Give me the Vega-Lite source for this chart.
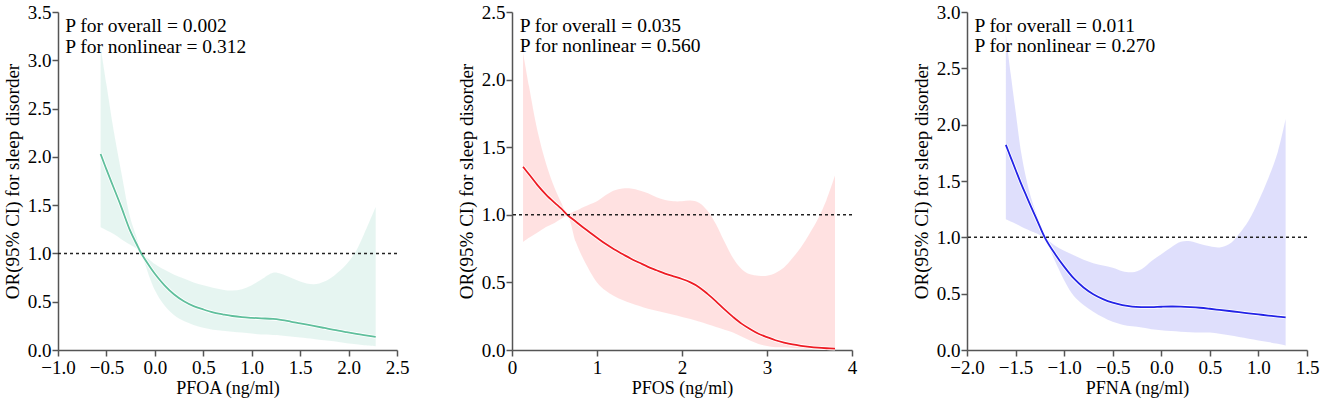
{
  "$schema": "https://vega.github.io/schema/vega-lite/v6.json",
  "padding": {"left": 3, "top": 3, "right": 5, "bottom": 5},
  "background": "white",
  "config": {
    "font": "Liberation Serif",
    "view": {"stroke": null},
    "axis": {
      "grid": false,
      "domainColor": "#555555",
      "domainWidth": 1.5,
      "tickColor": "#555555",
      "tickWidth": 1.5,
      "tickSize": 6,
      "labelColor": "#000000",
      "labelFont": "Liberation Serif",
      "labelFontSize": 19,
      "labelOverlap": false,
      "labelFlush": false,
      "titleFont": "Liberation Serif",
      "titleFontSize": 18,
      "titleFontWeight": "normal",
      "titleColor": "#000000",
      "labelPadding": 1
    },
    "axisY": {"titlePadding": 5, "titleFontSize": 19},
    "axisX": {"titlePadding": 2, "labelPadding": 2}
  },
  "datasets": {
    "pfoa": [
      {"x": -0.56, "or": 2.03, "lo": 1.27, "hi": 3.14},
      {"x": -0.5, "or": 1.87, "lo": 1.24, "hi": 2.75},
      {"x": -0.425, "or": 1.68, "lo": 1.2, "hi": 2.27},
      {"x": -0.35, "or": 1.49, "lo": 1.15, "hi": 1.86},
      {"x": -0.254, "or": 1.233, "lo": 1.09, "hi": 1.37},
      {"x": -0.19, "or": 1.1, "lo": 1.05, "hi": 1.17},
      {"x": -0.14, "or": 1.0, "lo": 0.99, "hi": 1.01},
      {"x": -0.05, "or": 0.86, "lo": 0.74, "hi": 0.93},
      {"x": 0.0, "or": 0.79, "lo": 0.62, "hi": 0.89},
      {"x": 0.1, "or": 0.67, "lo": 0.46, "hi": 0.83},
      {"x": 0.2, "or": 0.575, "lo": 0.36, "hi": 0.78},
      {"x": 0.3, "or": 0.505, "lo": 0.3, "hi": 0.74},
      {"x": 0.4, "or": 0.455, "lo": 0.26, "hi": 0.7},
      {"x": 0.5, "or": 0.42, "lo": 0.23, "hi": 0.67},
      {"x": 0.6, "or": 0.39, "lo": 0.21, "hi": 0.645},
      {"x": 0.7, "or": 0.37, "lo": 0.2, "hi": 0.625},
      {"x": 0.8, "or": 0.352, "lo": 0.19, "hi": 0.615},
      {"x": 0.9, "or": 0.34, "lo": 0.18, "hi": 0.63},
      {"x": 1.0, "or": 0.333, "lo": 0.17, "hi": 0.67},
      {"x": 1.1, "or": 0.328, "lo": 0.16, "hi": 0.73},
      {"x": 1.22, "or": 0.322, "lo": 0.155, "hi": 0.8},
      {"x": 1.3, "or": 0.312, "lo": 0.15, "hi": 0.79},
      {"x": 1.4, "or": 0.295, "lo": 0.14, "hi": 0.75},
      {"x": 1.5, "or": 0.276, "lo": 0.13, "hi": 0.71},
      {"x": 1.64, "or": 0.25, "lo": 0.115, "hi": 0.68},
      {"x": 1.75, "or": 0.228, "lo": 0.1, "hi": 0.71},
      {"x": 1.85, "or": 0.208, "lo": 0.09, "hi": 0.77},
      {"x": 1.98, "or": 0.185, "lo": 0.07, "hi": 0.89},
      {"x": 2.08, "or": 0.168, "lo": 0.06, "hi": 1.03},
      {"x": 2.16, "or": 0.155, "lo": 0.05, "hi": 1.2},
      {"x": 2.28, "or": 0.135, "lo": 0.04, "hi": 1.48}
    ],
    "pfos": [
      {"x": 0.13, "or": 1.355, "lo": 0.8, "hi": 2.2},
      {"x": 0.2, "or": 1.3, "lo": 0.83, "hi": 1.95},
      {"x": 0.3, "or": 1.22, "lo": 0.87, "hi": 1.62},
      {"x": 0.4, "or": 1.15, "lo": 0.91, "hi": 1.38},
      {"x": 0.5, "or": 1.09, "lo": 0.94, "hi": 1.2},
      {"x": 0.58, "or": 1.045, "lo": 0.97, "hi": 1.09},
      {"x": 0.65, "or": 1.0, "lo": 0.99, "hi": 1.01},
      {"x": 0.75, "or": 0.95, "lo": 0.8, "hi": 1.03},
      {"x": 0.85, "or": 0.9, "lo": 0.66, "hi": 1.06},
      {"x": 1.0, "or": 0.83, "lo": 0.5, "hi": 1.1},
      {"x": 1.1, "or": 0.785, "lo": 0.44, "hi": 1.145},
      {"x": 1.2, "or": 0.745, "lo": 0.4, "hi": 1.18},
      {"x": 1.3, "or": 0.71, "lo": 0.37, "hi": 1.195},
      {"x": 1.4, "or": 0.675, "lo": 0.345, "hi": 1.195},
      {"x": 1.5, "or": 0.645, "lo": 0.325, "hi": 1.18},
      {"x": 1.6, "or": 0.615, "lo": 0.305, "hi": 1.16},
      {"x": 1.7, "or": 0.59, "lo": 0.29, "hi": 1.13},
      {"x": 1.8, "or": 0.565, "lo": 0.275, "hi": 1.11},
      {"x": 1.9, "or": 0.545, "lo": 0.26, "hi": 1.1},
      {"x": 2.0, "or": 0.525, "lo": 0.245, "hi": 1.1},
      {"x": 2.1, "or": 0.5, "lo": 0.23, "hi": 1.105},
      {"x": 2.2, "or": 0.465, "lo": 0.21, "hi": 1.09},
      {"x": 2.3, "or": 0.415, "lo": 0.19, "hi": 1.03},
      {"x": 2.4, "or": 0.36, "lo": 0.17, "hi": 0.93},
      {"x": 2.5, "or": 0.3, "lo": 0.15, "hi": 0.8},
      {"x": 2.6, "or": 0.245, "lo": 0.13, "hi": 0.68},
      {"x": 2.7, "or": 0.195, "lo": 0.1, "hi": 0.6},
      {"x": 2.8, "or": 0.155, "lo": 0.07, "hi": 0.56},
      {"x": 2.9, "or": 0.12, "lo": 0.045, "hi": 0.55},
      {"x": 3.0, "or": 0.095, "lo": 0.03, "hi": 0.55},
      {"x": 3.1, "or": 0.072, "lo": 0.02, "hi": 0.57},
      {"x": 3.2, "or": 0.055, "lo": 0.02, "hi": 0.61},
      {"x": 3.3, "or": 0.041, "lo": 0.015, "hi": 0.68},
      {"x": 3.4, "or": 0.031, "lo": 0.012, "hi": 0.76},
      {"x": 3.5, "or": 0.023, "lo": 0.01, "hi": 0.86},
      {"x": 3.6, "or": 0.017, "lo": 0.01, "hi": 0.97},
      {"x": 3.7, "or": 0.013, "lo": 0.01, "hi": 1.11},
      {"x": 3.8, "or": 0.01, "lo": 0.005, "hi": 1.29}
    ],
    "pfna": [
      {"x": -1.6, "or": 1.82, "lo": 1.16, "hi": 2.8},
      {"x": -1.55, "or": 1.71, "lo": 1.14, "hi": 2.45},
      {"x": -1.5, "or": 1.6, "lo": 1.12, "hi": 2.12},
      {"x": -1.44, "or": 1.47, "lo": 1.095, "hi": 1.74},
      {"x": -1.39, "or": 1.37, "lo": 1.075, "hi": 1.52},
      {"x": -1.34, "or": 1.27, "lo": 1.055, "hi": 1.35},
      {"x": -1.27, "or": 1.135, "lo": 1.03, "hi": 1.17},
      {"x": -1.2, "or": 1.0, "lo": 0.99, "hi": 1.01},
      {"x": -1.1, "or": 0.86, "lo": 0.8, "hi": 0.93},
      {"x": -1.0, "or": 0.74, "lo": 0.62, "hi": 0.88},
      {"x": -0.9, "or": 0.635, "lo": 0.48, "hi": 0.84},
      {"x": -0.8, "or": 0.555, "lo": 0.4, "hi": 0.8},
      {"x": -0.7, "or": 0.495, "lo": 0.34, "hi": 0.77},
      {"x": -0.6, "or": 0.452, "lo": 0.29, "hi": 0.75},
      {"x": -0.5, "or": 0.42, "lo": 0.25, "hi": 0.73},
      {"x": -0.4, "or": 0.398, "lo": 0.225, "hi": 0.7},
      {"x": -0.3, "or": 0.385, "lo": 0.21, "hi": 0.69},
      {"x": -0.2, "or": 0.381, "lo": 0.2, "hi": 0.72},
      {"x": -0.1, "or": 0.381, "lo": 0.185, "hi": 0.79},
      {"x": 0.0, "or": 0.384, "lo": 0.175, "hi": 0.85},
      {"x": 0.1, "or": 0.386, "lo": 0.168, "hi": 0.91},
      {"x": 0.2, "or": 0.385, "lo": 0.162, "hi": 0.96},
      {"x": 0.3, "or": 0.381, "lo": 0.158, "hi": 0.965},
      {"x": 0.4, "or": 0.375, "lo": 0.156, "hi": 0.94},
      {"x": 0.5, "or": 0.366, "lo": 0.155, "hi": 0.92},
      {"x": 0.6, "or": 0.356, "lo": 0.145, "hi": 0.91},
      {"x": 0.7, "or": 0.346, "lo": 0.13, "hi": 0.94},
      {"x": 0.8, "or": 0.336, "lo": 0.115, "hi": 1.03},
      {"x": 0.9, "or": 0.326, "lo": 0.1, "hi": 1.15},
      {"x": 1.0, "or": 0.316, "lo": 0.085, "hi": 1.32},
      {"x": 1.1, "or": 0.306, "lo": 0.07, "hi": 1.52},
      {"x": 1.2, "or": 0.297, "lo": 0.055, "hi": 1.76},
      {"x": 1.28, "or": 0.29, "lo": 0.04, "hi": 2.05}
    ],
    "notes": [
      {"panel": "pfoa", "x": -0.925, "y": 3.35, "label": "P for overall = 0.002"},
      {"panel": "pfoa", "x": -0.925, "y": 3.14, "label": "P for nonlinear = 0.312"},
      {"panel": "pfos", "x": 0.09, "y": 2.394, "label": "P for overall = 0.035"},
      {"panel": "pfos", "x": 0.09, "y": 2.246, "label": "P for nonlinear = 0.560"},
      {"panel": "pfna", "x": -1.924, "y": 2.873, "label": "P for overall = 0.011"},
      {"panel": "pfna", "x": -1.924, "y": 2.696, "label": "P for nonlinear = 0.270"}
    ]
  },
  "bounds": "flush",
  "spacing": 115,
  "hconcat": [
    {
      "width": 339,
      "height": 338,
      "layer": [
        {
          "data": {"name": "pfoa"},
          "mark": {"type": "area", "color": "#66c2a5", "opacity": 0.16, "interpolate": "catmull-rom"},
          "encoding": {
            "x": {"field": "x", "type": "quantitative", "scale": {"domain": [-1, 2.5], "nice": false, "zero": false}, "axis": {"values": [-1, -0.5, 0, 0.5, 1, 1.5, 2, 2.5], "format": ".1f", "title": "PFOA (ng/ml)"}},
            "y": {"field": "lo", "type": "quantitative", "scale": {"domain": [0, 3.5], "nice": false}, "axis": {"values": [0, 0.5, 1, 1.5, 2, 2.5, 3, 3.5], "format": ".1f", "title": "OR(95% CI) for sleep disorder"}},
            "y2": {"field": "hi"}
          }
        },
        {
          "data": {"name": "pfoa"},
          "mark": {"type": "line", "color": "white", "strokeWidth": 3.5, "interpolate": "catmull-rom"},
          "encoding": {"x": {"field": "x", "type": "quantitative"}, "y": {"field": "or", "type": "quantitative"}}
        },
        {
          "data": {"name": "pfoa"},
          "mark": {"type": "line", "color": "#5fbf9c", "strokeWidth": 1.8, "interpolate": "catmull-rom"},
          "encoding": {"x": {"field": "x", "type": "quantitative"}, "y": {"field": "or", "type": "quantitative"}}
        },
        {
          "data": {"values": [{"ref": 1}]},
          "mark": {"type": "rule", "color": "#222222", "strokeWidth": 1.5, "strokeDash": [3, 3]},
          "encoding": {"y": {"field": "ref", "type": "quantitative"}}
        },
        {
          "data": {"name": "notes"},
          "transform": [{"filter": "datum.panel === 'pfoa'"}],
          "mark": {"type": "text", "align": "left", "baseline": "middle", "fontSize": 19.5, "font": "Liberation Serif", "color": "black"},
          "encoding": {"x": {"field": "x", "type": "quantitative"}, "y": {"field": "y", "type": "quantitative"}, "text": {"field": "label"}}
        }
      ]
    },
    {
      "width": 340,
      "height": 338,
      "layer": [
        {
          "data": {"name": "pfos"},
          "mark": {"type": "area", "color": "#ff4d4d", "opacity": 0.17, "interpolate": "catmull-rom"},
          "encoding": {
            "x": {"field": "x", "type": "quantitative", "scale": {"domain": [0, 4], "nice": false, "zero": false}, "axis": {"values": [0, 1, 2, 3, 4], "format": "d", "title": "PFOS (ng/ml)"}},
            "y": {"field": "lo", "type": "quantitative", "scale": {"domain": [0, 2.5], "nice": false}, "axis": {"values": [0, 0.5, 1, 1.5, 2, 2.5], "format": ".1f", "title": "OR(95% CI) for sleep disorder"}},
            "y2": {"field": "hi"}
          }
        },
        {
          "data": {"name": "pfos"},
          "mark": {"type": "line", "color": "white", "strokeWidth": 3.5, "interpolate": "catmull-rom"},
          "encoding": {"x": {"field": "x", "type": "quantitative"}, "y": {"field": "or", "type": "quantitative"}}
        },
        {
          "data": {"name": "pfos"},
          "mark": {"type": "line", "color": "#ee1c24", "strokeWidth": 1.8, "interpolate": "catmull-rom"},
          "encoding": {"x": {"field": "x", "type": "quantitative"}, "y": {"field": "or", "type": "quantitative"}}
        },
        {
          "data": {"values": [{"ref": 1}]},
          "mark": {"type": "rule", "color": "#222222", "strokeWidth": 1.5, "strokeDash": [3, 3]},
          "encoding": {"y": {"field": "ref", "type": "quantitative"}}
        },
        {
          "data": {"name": "notes"},
          "transform": [{"filter": "datum.panel === 'pfos'"}],
          "mark": {"type": "text", "align": "left", "baseline": "middle", "fontSize": 19.5, "font": "Liberation Serif", "color": "black"},
          "encoding": {"x": {"field": "x", "type": "quantitative"}, "y": {"field": "y", "type": "quantitative"}, "text": {"field": "label"}}
        }
      ]
    },
    {
      "width": 340,
      "height": 338,
      "layer": [
        {
          "data": {"name": "pfna"},
          "mark": {"type": "area", "color": "#5555ee", "opacity": 0.19, "interpolate": "catmull-rom"},
          "encoding": {
            "x": {"field": "x", "type": "quantitative", "scale": {"domain": [-2, 1.5], "nice": false, "zero": false}, "axis": {"values": [-2, -1.5, -1, -0.5, 0, 0.5, 1, 1.5], "format": ".1f", "title": "PFNA (ng/ml)"}},
            "y": {"field": "lo", "type": "quantitative", "scale": {"domain": [0, 3], "nice": false}, "axis": {"values": [0, 0.5, 1, 1.5, 2, 2.5, 3], "format": ".1f", "title": "OR(95% CI) for sleep disorder"}},
            "y2": {"field": "hi"}
          }
        },
        {
          "data": {"name": "pfna"},
          "mark": {"type": "line", "color": "white", "strokeWidth": 3.5, "interpolate": "catmull-rom"},
          "encoding": {"x": {"field": "x", "type": "quantitative"}, "y": {"field": "or", "type": "quantitative"}}
        },
        {
          "data": {"name": "pfna"},
          "mark": {"type": "line", "color": "#2323e6", "strokeWidth": 1.8, "interpolate": "catmull-rom"},
          "encoding": {"x": {"field": "x", "type": "quantitative"}, "y": {"field": "or", "type": "quantitative"}}
        },
        {
          "data": {"values": [{"ref": 1}]},
          "mark": {"type": "rule", "color": "#222222", "strokeWidth": 1.5, "strokeDash": [3, 3]},
          "encoding": {"y": {"field": "ref", "type": "quantitative"}}
        },
        {
          "data": {"name": "notes"},
          "transform": [{"filter": "datum.panel === 'pfna'"}],
          "mark": {"type": "text", "align": "left", "baseline": "middle", "fontSize": 19.5, "font": "Liberation Serif", "color": "black"},
          "encoding": {"x": {"field": "x", "type": "quantitative"}, "y": {"field": "y", "type": "quantitative"}, "text": {"field": "label"}}
        }
      ]
    }
  ]
}
